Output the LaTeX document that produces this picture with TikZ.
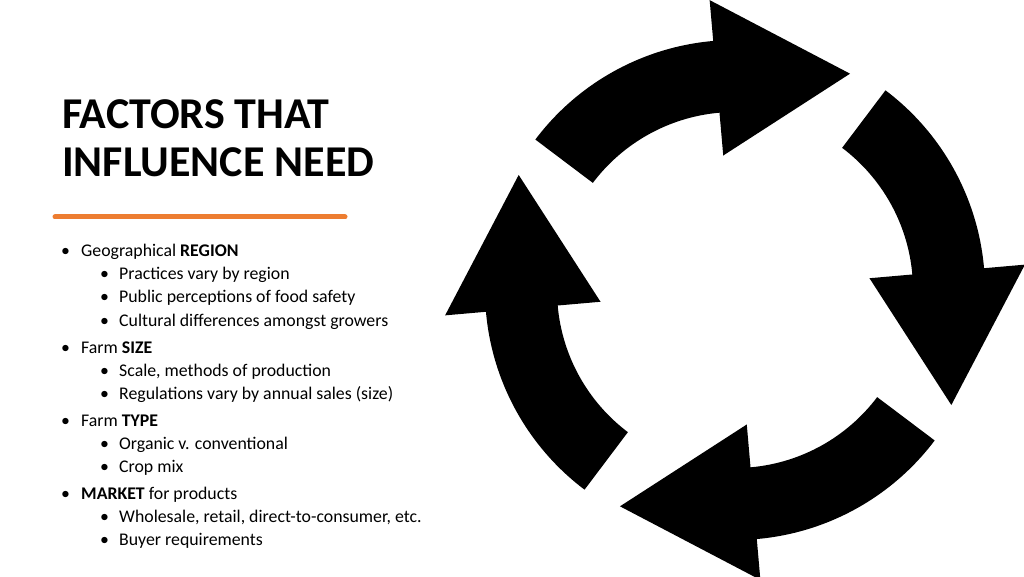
\documentclass[tikz,border=0pt]{standalone}
\usepackage{fontspec}
\setmainfont{Carlito}
\definecolor{accent}{RGB}{237,125,49}
\tikzset{
  lvlone/.style={anchor=base west,inner sep=0pt,font=\fontsize{17.8}{21}\selectfont},
  lvltwo/.style={anchor=base west,inner sep=0pt,font=\fontsize{17.8}{21}\selectfont},
  dot/.style={anchor=base west,inner sep=0pt,font=\fontsize{17.8}{21}\selectfont}
}
\begin{document}
\begin{tikzpicture}[x=1pt,y=1pt]
\useasboundingbox (0,0) rectangle (1024,576);
% title
\node[anchor=base west,inner sep=0pt,font=\fontsize{44}{50}\bfseries\selectfont] (title1) at (62,447) {FACTORS THAT};
\node[anchor=base west,inner sep=0pt,font=\fontsize{44}{50}\bfseries\selectfont] (title2) at (62,399) {INFLUENCE NEED};
\draw[accent,line width=5pt,line cap=round] (55,359) -- (345,359);
% bullet list
\foreach \yy/\lv/\txt in {319/1/Geographical \textbf{REGION},296/2/Practices vary by region,273/2/Public perceptions of food safety,250/2/Cultural differences amongst growers,
  223/1/Farm \textbf{SIZE},200/2/{Scale, methods of production},177/2/Regulations vary by annual sales (size),
  150/1/Farm \textbf{TYPE},127/2/Organic v. conventional,104/2/Crop mix,
  77/1/\textbf{MARKET} for products,54/2/{Wholesale, retail, direct-to-consumer, etc.},31/2/Buyer requirements}{
  \ifnum\lv=1
    \node[dot] at (61,\yy) {•};
    \node[lvlone] at (81,\yy) {\txt};
  \else
    \node[dot] at (100,\yy) {•};
    \node[lvltwo] at (119,\yy) {\txt};
  \fi
}
% cycle arrows
\foreach \rot in {0,-90,-180,-270}{
  \fill[black,shift={(735,286)},rotate=\rot]
    (143:250) arc[start angle=143,end angle=95,radius=250] -- (95:291) -- (62:245) -- (95:135)
    -- (95:178) arc[start angle=95,end angle=143,radius=178] -- cycle;
}
\end{tikzpicture}
\end{document}
